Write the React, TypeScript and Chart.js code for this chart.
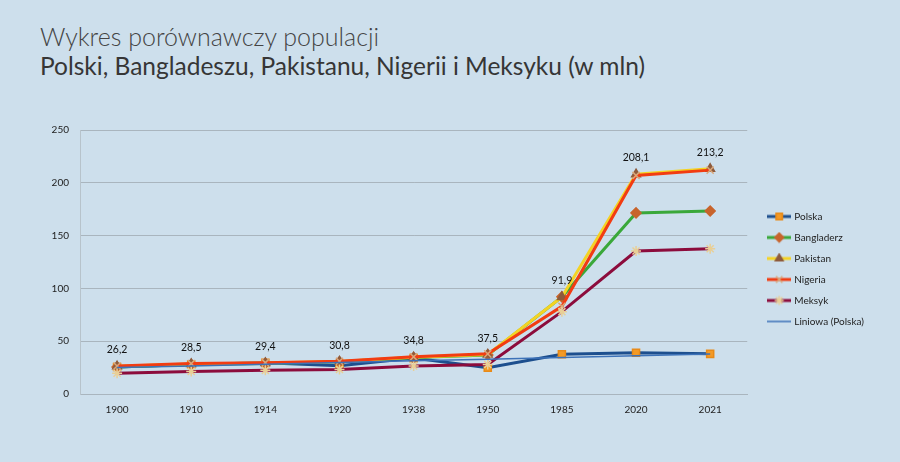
import React, { useEffect, useRef } from 'react'
import { Chart, registerables, type ChartConfiguration, type Plugin } from 'chart.js'
import { drawPoint } from 'chart.js/helpers'

Chart.register(...registerables)

const years = ['1900', '1910', '1914', '1920', '1938', '1950', '1985', '2020', '2021']

const polska     = [25.5, 28.0, 29.5, 26.7, 34.0, 24.8, 37.6, 39.0, 38.0]
const bangladesz = [25.5, 28.0, 29.0, 30.5, 34.5, 37.0, 92.0, 171.5, 173.3]
const pakistan   = [26.2, 28.5, 29.4, 30.8, 34.8, 37.5, 91.9, 208.1, 213.2]
const nigeria    = [26.5, 28.8, 29.7, 31.0, 35.2, 38.0, 83.0, 207.0, 212.0]
const meksyk     = [19.6, 21.4, 22.4, 23.3, 26.5, 28.0, 78.0, 135.4, 137.6]
const trendPl    = [25.0, 26.6, 28.2, 29.8, 31.4, 33.0, 34.6, 36.2, 37.8]

const yTicks = [0, 50, 100, 150, 200, 250]

const FONT = 'Lato, "Open Sans", sans-serif'

interface SeriesStyle {
  label: string
  data: number[]
  line: string
  width: number
  point: string | false
  fill: string
  stroke: string
}

const series: SeriesStyle[] = [
  { label: 'Polska',           data: polska,     line: '#1d4f8e', width: 3,   point: 'rect',     fill: '#f39a26', stroke: '#e88a18' },
  { label: 'Bangladerz',       data: bangladesz, line: '#3aa83a', width: 3,   point: 'rectRot',  fill: '#c8642c', stroke: '#c8642c' },
  { label: 'Pakistan',         data: pakistan,   line: '#f4d324', width: 3,   point: 'triangle', fill: '#8e5b3c', stroke: '#8e5b3c' },
  { label: 'Nigeria',          data: nigeria,    line: '#f23c12', width: 3,   point: 'crossRot', fill: '#d9a77a', stroke: '#d9a77a' },
  { label: 'Meksyk',           data: meksyk,     line: '#8c0c3c', width: 3,   point: 'star',     fill: '#e9cf96', stroke: '#e9cf96' },
  { label: 'Liniowa (Polska)', data: trendPl,    line: '#3d72b8', width: 1.5, point: false,      fill: '#3d72b8', stroke: '#3d72b8' },
]

function legendIcon(s: SeriesStyle): HTMLCanvasElement {
  const c = document.createElement('canvas')
  c.width = 24
  c.height = 12
  const ctx = c.getContext('2d')!
  ctx.strokeStyle = s.line
  ctx.lineWidth = s.width
  ctx.beginPath()
  ctx.moveTo(0, 6)
  ctx.lineTo(24, 6)
  ctx.stroke()
  if (s.point) {
    ctx.fillStyle = s.fill
    ctx.strokeStyle = s.stroke
    ctx.lineWidth = 1.5
    drawPoint(ctx, { pointStyle: s.point as any, rotation: 0, radius: 4.5, borderWidth: 1.5 }, 12, 6)
  }
  return c
}

// wartości Pakistanu nad punktami
const valueLabels: Plugin<'line'> = {
  id: 'valueLabels',
  afterDatasetsDraw(chart) {
    const meta = chart.getDatasetMeta(2)
    const ctx = chart.ctx
    ctx.save()
    ctx.font = `10.5px ${FONT}`
    ctx.fillStyle = '#111'
    ctx.textAlign = 'center'
    ctx.textBaseline = 'bottom'
    meta.data.forEach((pt, i) => {
      ctx.fillText(pakistan[i].toFixed(1).replace('.', ','), pt.x, pt.y - 11)
    })
    ctx.restore()
  },
}

// legenda odsunięta trochę od wykresu
const legendShift: Plugin<'line'> = {
  id: 'legendShift',
  afterLayout(chart) {
    const lg: any = chart.legend
    if (!lg) return
    lg.left += 11
    lg.right += 11
    lg.top -= 8
    lg.bottom -= 8
  },
}

function PopulationChart() {
  const canvasRef = useRef<HTMLCanvasElement>(null)
  const chartRef = useRef<Chart | null>(null)

  useEffect(() => {
    if (!canvasRef.current) return
    chartRef.current?.destroy()

    const icons = series.map(legendIcon)
    const n = series.length

    const cfg: ChartConfiguration<'line'> = {
      type: 'line',
      data: {
        labels: years,
        datasets: series.map((s, i) => ({
          label: s.label,
          data: s.data,
          borderColor: s.line,
          borderWidth: s.width,
          backgroundColor: s.fill,
          pointBorderColor: s.stroke,
          pointBackgroundColor: s.fill,
          pointStyle: s.point as any,
          pointRadius: s.point ? 5 : 0,
          pointBorderWidth: 1.5,
          tension: 0,
          order: n - i,
        })),
      },
      options: {
        responsive: false,
        animation: false,
        devicePixelRatio: 1,
        layout: { padding: { left: 40, top: 130, right: 37, bottom: 38 } },
        plugins: {
          tooltip: { enabled: false },
          title: { display: false },
          legend: {
            position: 'right',
            align: 'center',
            labels: {
              usePointStyle: true,
              pointStyleWidth: 20,
              padding: 11,
              color: '#222',
              font: { family: FONT, size: 10 },
              generateLabels: () =>
                series.map((s, i) => ({
                  text: s.label,
                  pointStyle: icons[i],
                  fillStyle: 'transparent',
                  strokeStyle: 'transparent',
                  lineWidth: 0,
                  hidden: false,
                  datasetIndex: i,
                  fontColor: '#222',
                })),
            },
          },
        },
        scales: {
          x: {
            offset: true,
            grid: { display: false },
            border: { display: true, color: '#a9b5be' },
            ticks: { color: '#222', font: { family: FONT, size: 10 }, padding: 2 },
            afterFit: (s: any) => { s.height = 30 },
          },
          y: {
            min: 0,
            max: 250,
            afterBuildTicks: (s: any) => { s.ticks = yTicks.map(v => ({ value: v })) },
            grid: { color: '#a9b5be', lineWidth: 1, drawTicks: false },
            border: { display: true, color: '#b7c3cb' },
            ticks: { color: '#222', font: { family: FONT, size: 10 }, padding: 11 },
            afterFit: (s: any) => { s.width = 40 },
          },
        },
      },
      plugins: [valueLabels, legendShift],
    }
    chartRef.current = new Chart(canvasRef.current, cfg)
    return () => { chartRef.current?.destroy() }
  }, [])

  return <canvas ref={canvasRef} width={900} height={462} style={{ position: 'absolute', left: 0, top: 0, width: 900, height: 462 }} />
}

export default function App() {
  useEffect(() => { document.body.style.margin = '0' }, [])
  return (
    <div style={{ position: 'relative', width: 900, height: 462, background: '#cddfec', overflow: 'hidden', fontFamily: FONT }}>
      <div style={{ position: 'absolute', left: 40, top: 21, fontSize: 25, fontWeight: 300, color: '#444', lineHeight: '30px', whiteSpace: 'nowrap' }}>
        Wykres porównawczy populacji
      </div>
      <div style={{ position: 'absolute', left: 40, top: 51, fontSize: 24.5, fontWeight: 400, color: '#363636', lineHeight: '30px', whiteSpace: 'nowrap' }}>
        Polski, Bangladeszu, Pakistanu, Nigerii i Meksyku (w mln)
      </div>
      <PopulationChart />
    </div>
  )
}
